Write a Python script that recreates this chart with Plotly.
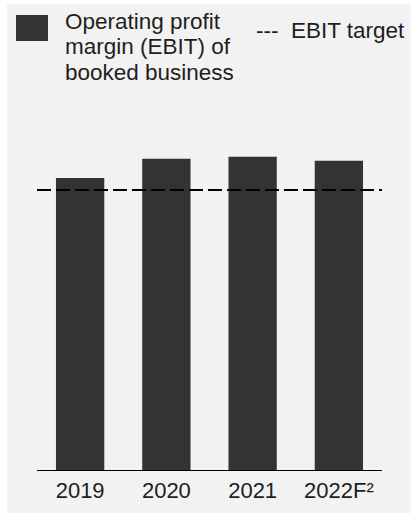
import plotly.graph_objects as go

# Operating profit margin (EBIT) of booked business, % (no axis shown)
years = ["2019", "2020", "2021", "2022F²"]
ebit_margin = [7.3, 7.78, 7.83, 7.73]
ebit_target = 7.0

W, H = 411, 514
ML, MR, MT, MB = 37, 29, 110, 44
PW, PH = W - ML - MR, H - MT - MB
Y_MAX = 9.0

BG = "#f2f2f2"
BAR = "#333333"
TXT = "#1e1e1e"
FONT = "Liberation Sans, Arial, sans-serif"


def px_x(px):
    return (px - ML) / PW


def px_y(py):
    return (H - MB - py) / PH


fig = go.Figure()
fig.add_trace(go.Bar(
    x=years, y=ebit_margin,
    marker=dict(color=BAR, line=dict(width=0)),
    hoverinfo="skip", showlegend=False,
))

shapes = [
    # panel background
    dict(type="rect", xref="paper", yref="paper", layer="below",
         x0=px_x(7), x1=px_x(W + 2), y0=px_y(H - 1), y1=px_y(4),
         fillcolor=BG, line=dict(width=0)),
    # EBIT target line
    dict(type="line", xref="paper", yref="y", x0=0, x1=1,
         y0=ebit_target, y1=ebit_target,
         line=dict(color="#000000", width=1.8, dash="14px,5px")),
    # legend swatch
    dict(type="rect", xref="paper", yref="paper",
         x0=px_x(16), x1=px_x(48), y0=px_y(41), y1=px_y(15),
         fillcolor=BAR, line=dict(width=0)),
]

legend_lines = ["Operating profit", "margin (EBIT) of", "booked business"]
line_centres = [21, 47, 73]
annotations = [
    dict(text=t, xref="paper", yref="paper", x=px_x(63), y=px_y(c),
         xanchor="left", yanchor="middle", showarrow=False,
         font=dict(family=FONT, size=22.5, color=TXT))
    for t, c in zip(legend_lines, line_centres)
]
annotations.append(dict(
    text="---  EBIT target", xref="paper", yref="paper", x=px_x(254), y=px_y(31),
    xanchor="left", yanchor="middle", showarrow=False,
    font=dict(family=FONT, size=22.5, color=TXT)))

fig.update_layout(
    width=W, height=H,
    margin=dict(l=ML, r=MR, t=MT, b=MB, pad=0),
    paper_bgcolor="#ffffff", plot_bgcolor=BG,
    bargap=0.44,
    shapes=shapes, annotations=annotations,
    xaxis=dict(showline=True, linecolor="#000000", linewidth=1.3,
               ticks="", showgrid=False, zeroline=False,
               tickfont=dict(family=FONT, size=22, color=TXT)),
    yaxis=dict(visible=False, range=[0, Y_MAX]),
)

fig.write_html("out.html")
